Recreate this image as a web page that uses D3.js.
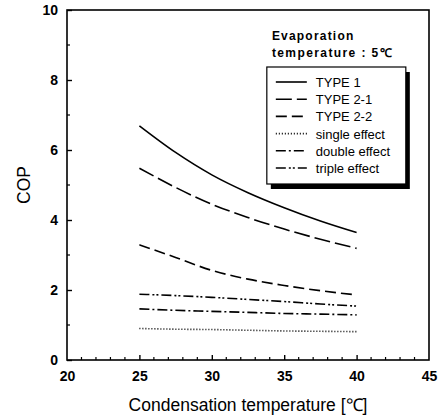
<!DOCTYPE html>
<html>
<head>
<meta charset="utf-8">
<script src="https://cdn.jsdelivr.net/npm/d3@7"></script>
<style>
  body { margin: 0; background: #fff; }
  text { font-family: "Liberation Sans", Arial, sans-serif; fill: #000; }
</style>
</head>
<body>
<script>
// condensation temperature and COP of each cycle
const temps = [25, 27.5, 30, 32.5, 35, 37.5, 40];
const type1 = [6.69, 5.93, 5.29, 4.78, 4.35, 3.97, 3.64];
const type21 = [5.48, 4.93, 4.45, 4.07, 3.74, 3.45, 3.19];
const type22 = [3.29, 2.93, 2.56, 2.31, 2.13, 1.98, 1.86];
const single = [0.90, 0.88, 0.87, 0.85, 0.83, 0.82, 0.81];
const double = [1.46, 1.42, 1.39, 1.36, 1.33, 1.31, 1.29];
const triple = [1.88, 1.84, 1.79, 1.73, 1.67, 1.60, 1.54];

const xTicks = [20, 25, 30, 35, 40, 45];
const yTicks = [0, 2, 4, 6, 8, 10];

const series = [
  { name: 'TYPE 1', values: type1, dash: null },
  { name: 'TYPE 2-1', values: type21, dash: '16,5' },
  { name: 'TYPE 2-2', values: type22, dash: '11,5' },
  { name: 'single effect', values: single, dash: '1,2' },
  { name: 'double effect', values: double, dash: '10,3,2,3' },
  { name: 'triple effect', values: triple, dash: '10,3,2,2,2,3' }
];

const svgWidth = 443;
const svgHeight = 418;
const margin = { top: 10, right: 14, bottom: 58, left: 67 };
const width = svgWidth - margin.left - margin.right;
const height = svgHeight - margin.top - margin.bottom;

const svg = d3.select('body')
  .append('svg')
  .attr('width', svgWidth)
  .attr('height', svgHeight)
  .append('g')
  .attr('transform', `translate(${margin.left}, ${margin.top})`);

const x = d3.scaleLinear().domain([20, 45]).range([0, width]);
const y = d3.scaleLinear().domain([0, 10]).range([height, 0]);

// frame
svg.append('rect')
  .attr('width', width)
  .attr('height', height)
  .attr('fill', 'none')
  .attr('stroke', '#000')
  .attr('stroke-width', 1.6);

// ticks point inward, minor ones every 1 unit
const minorX = d3.range(21, 45, 1).filter(d => d % 5 !== 0);
const minorY = d3.range(1, 10, 2);

const xAxis = svg.append('g')
  .attr('transform', `translate(0, ${height})`)
  .call(d3.axisBottom(x).tickValues(xTicks).tickFormat(d3.format('d')).tickSizeInner(-5).tickSizeOuter(0).tickPadding(11));
xAxis.selectAll('.tick').filter(d => d === 20 || d === 45).select('line').remove();
xAxis.append('g').selectAll('line').data(minorX).join('line')
  .attr('x1', d => x(d)).attr('x2', d => x(d))
  .attr('y1', 0).attr('y2', -3)
  .attr('stroke', '#000').attr('stroke-width', 1.2);

const yAxis = svg.append('g')
  .call(d3.axisLeft(y).tickValues(yTicks).tickFormat(d3.format('d')).tickSizeInner(-5).tickSizeOuter(0).tickPadding(9));
yAxis.append('g').selectAll('line').data(minorY).join('line')
  .attr('x1', 0).attr('x2', 3)
  .attr('y1', d => y(d)).attr('y2', d => y(d))
  .attr('stroke', '#000').attr('stroke-width', 1.2);

svg.selectAll('.domain').remove();
svg.selectAll('.tick line').attr('stroke-width', 1.4);
svg.selectAll('.tick text')
  .style('font-family', '"Liberation Sans", Arial, sans-serif')
  .style('font-size', '14px')
  .style('font-weight', 'bold');

// axis titles
svg.append('text')
  .attr('x', width / 2)
  .attr('y', height + 51)
  .attr('text-anchor', 'middle')
  .style('font-size', '17.5px')
  .text('Condensation temperature [℃]');

svg.append('text')
  .attr('transform', `translate(${-37}, ${height / 2}) rotate(-90)`)
  .attr('text-anchor', 'middle')
  .style('font-size', '17.5px')
  .text('COP');

// curves
const line = d3.line()
  .x((d, i) => x(temps[i]))
  .y(d => y(d))
  .curve(d3.curveMonotoneX);

svg.selectAll('.curve')
  .data(series)
  .join('path')
  .attr('class', 'curve')
  .attr('fill', 'none')
  .attr('stroke', '#000')
  .attr('stroke-width', 1.6)
  .attr('stroke-dasharray', d => d.dash)
  .attr('d', d => line(d.values));

// legend title
const title = svg.append('g').attr('transform', `translate(${x(34.15)}, 0)`);
title.append('text').attr('x', 0).attr('y', 30)
  .style('font-size', '12px').style('font-weight', 'bold').style('letter-spacing', '1.2px')
  .text('Evaporation');
title.append('text').attr('x', 0).attr('y', 47)
  .style('font-size', '12px').style('font-weight', 'bold').style('letter-spacing', '1.4px')
  .text('temperature : 5℃');

// legend box with drop shadow
const lx = x(33.8), ly = 57, lw = 139, lh = 117;
svg.append('rect')
  .attr('x', lx + 4).attr('y', ly + 5)
  .attr('width', lw).attr('height', lh)
  .attr('fill', '#000');
svg.append('rect')
  .attr('x', lx).attr('y', ly)
  .attr('width', lw).attr('height', lh)
  .attr('fill', '#fff').attr('stroke', '#000').attr('stroke-width', 1.2);

const legend = svg.selectAll('.legend')
  .data(series)
  .join('g')
  .attr('class', 'legend')
  .attr('transform', (d, i) => `translate(${lx + 9}, ${ly + 15 + i * 17.2})`);

legend.append('line')
  .attr('x1', 0).attr('x2', 31)
  .attr('stroke', '#000').attr('stroke-width', 1.6)
  .attr('stroke-dasharray', d => d.dash);

legend.append('text')
  .attr('x', 40).attr('y', 5)
  .style('font-size', '13px')
  .text(d => d.name);
</script>
</body>
</html>
